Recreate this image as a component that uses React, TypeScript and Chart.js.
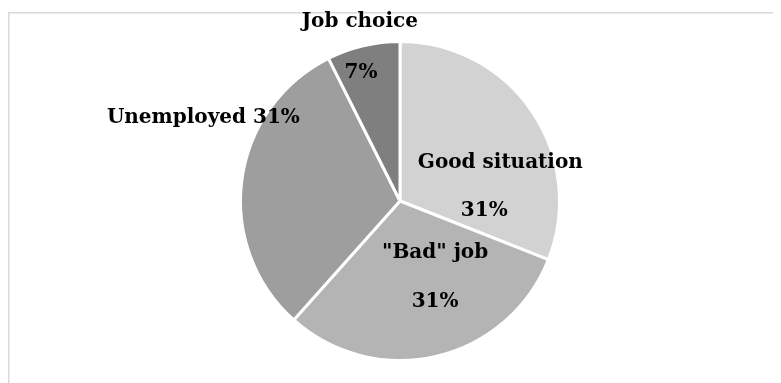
import React, { useEffect, useRef } from "react";
import { Chart, registerables } from "chart.js";

Chart.register(...registerables);

const categories = ["Good situation", "\"Bad\" job", "Unemployed", "Job choice"];
const values = [31.0, 30.6, 31.0, 7.4];
const labelLines = [["Good situation", "31%"], ["\"Bad\" job", "31%"], ["Unemployed 31%"], ["Job choice", "7%"]];
const colors = ["#d2d2d2", "#b4b4b4", "#9e9e9e", "#7f7f7f"];
// each label line's centre relative to the pie centre, in units of the radius
const lineOffsets = [
  [[0.629, -0.239], [0.528, 0.063]],
  [[0.22, 0.327], [0.22, 0.635]],
  [[-1.233, -0.522]],
  [[-0.252, -1.126], [-0.245, -0.805]],
];

const framePlugin = {
  id: "frame",
  beforeDraw(chart: any) {
    const ctx = chart.ctx;
    ctx.save();
    ctx.strokeStyle = "#d9d9d9";
    ctx.lineWidth = 1.5;
    ctx.beginPath();
    ctx.moveTo(0.75, chart.height + 5);
    ctx.lineTo(0.75, 4.75);
    ctx.lineTo(chart.width + 5, 4.75);
    ctx.stroke();
    ctx.restore();
  },
};

const labelPlugin = {
  id: "sliceLabels",
  afterDraw(chart: any) {
    const ctx = chart.ctx;
    const meta = chart.getDatasetMeta(0);
    ctx.save();
    ctx.fillStyle = "#000000";
    ctx.font = "bold 20px 'DejaVu Serif'";
    ctx.textAlign = "center";
    ctx.textBaseline = "middle";
    meta.data.forEach((arc: any, i: number) => {
      const r = arc.outerRadius;
      labelLines[i].forEach((t, j) => {
        const [ox, oy] = lineOffsets[i][j];
        ctx.fillText(t, arc.x + ox * r, arc.y + oy * r);
      });
    });
    ctx.restore();
  },
};

export default function App() {
  const ref = useRef<HTMLCanvasElement>(null);
  useEffect(() => {
    const chart = new Chart(ref.current!, {
      type: "pie",
      data: {
        labels: categories,
        datasets: [
          {
            data: values,
            backgroundColor: colors,
            borderColor: "#ffffff",
            borderWidth: 3,
          },
        ],
      },
      options: {
        animation: false,
        responsive: true,
        maintainAspectRatio: false,
        layout: { padding: { left: 19, right: 0, top: 32, bottom: 21 } },
        plugins: { legend: { display: false }, tooltip: { enabled: false }, title: { display: false } },
      },
      plugins: [framePlugin, labelPlugin],
    });
    return () => chart.destroy();
  }, []);
  return (
    <div style={{ width: 765, height: 375, position: "relative" }}>
      <canvas ref={ref} />
    </div>
  );
}
